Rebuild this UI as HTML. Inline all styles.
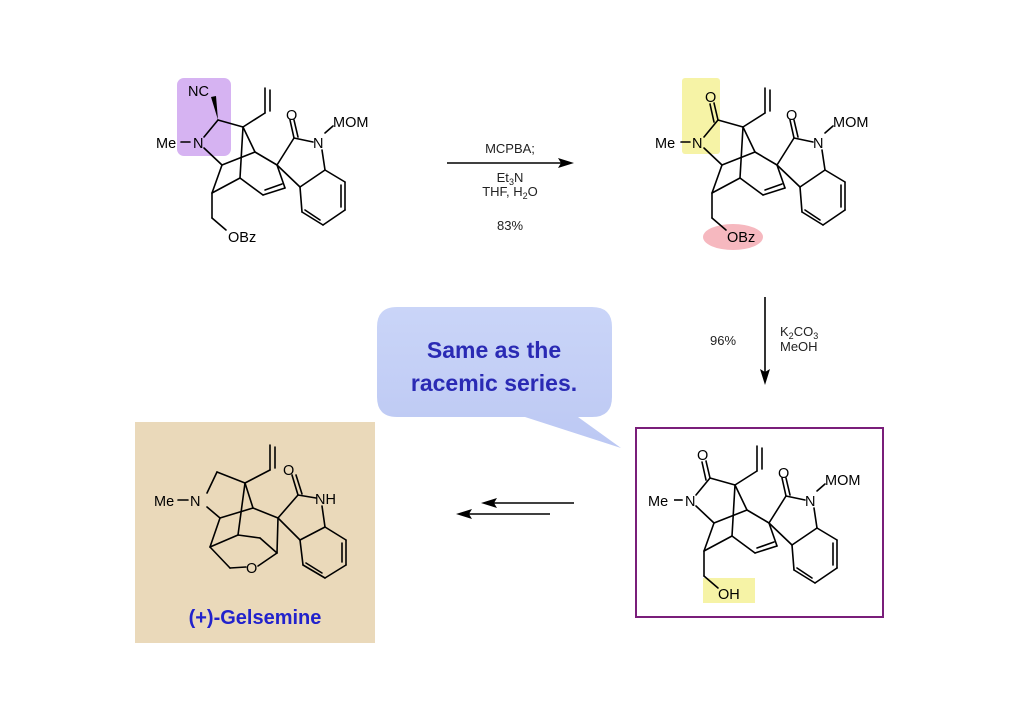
<!DOCTYPE html>
<html><head><meta charset="utf-8"><style>
html,body{margin:0;padding:0;background:#fff;}
svg{display:block;}
text{font-family:"Liberation Sans",sans-serif;}
</style></head><body>
<svg width="1024" height="724" viewBox="0 0 1024 724" xmlns="http://www.w3.org/2000/svg">
<defs>
<linearGradient id="bg" x1="0" y1="0" x2="0" y2="1"><stop offset="0" stop-color="#cad5f8"/><stop offset="1" stop-color="#bcc8f3"/></linearGradient>
<g id="core" stroke="#000" stroke-width="1.6" fill="none" stroke-linecap="round">
<line x1="218" y1="120" x2="243" y2="127"/>
<line x1="218" y1="120" x2="204" y2="137"/>
<line x1="190" y1="142" x2="181" y2="142"/>
<line x1="204" y1="148" x2="222" y2="165"/>
<line x1="243" y1="127" x2="255" y2="152"/>
<line x1="243" y1="127" x2="240" y2="178"/>
<line x1="243" y1="127" x2="265" y2="113"/>
<line x1="265" y1="113" x2="265" y2="88"/>
<line x1="270" y1="111" x2="270" y2="90"/>
<line x1="222" y1="165" x2="255" y2="152"/>
<line x1="222" y1="165" x2="212" y2="193"/>
<line x1="212" y1="193" x2="240" y2="178"/>
<line x1="240" y1="178" x2="263" y2="195"/>
<line x1="263" y1="195" x2="285" y2="188"/>
<line x1="265" y1="190" x2="282" y2="184"/>
<line x1="285" y1="188" x2="277" y2="165"/>
<line x1="255" y1="152" x2="277" y2="165"/>
<line x1="277" y1="165" x2="294" y2="138"/>
<line x1="294" y1="138" x2="290" y2="120"/>
<line x1="298" y1="137" x2="294" y2="120"/>
<line x1="294" y1="138" x2="313" y2="142"/>
<line x1="322" y1="150" x2="325" y2="170"/>
<line x1="325" y1="133" x2="333" y2="126"/>
<line x1="277" y1="165" x2="300" y2="187"/>
<line x1="325" y1="170" x2="300" y2="187"/>
<line x1="325" y1="170" x2="345" y2="182"/>
<line x1="345" y1="182" x2="345" y2="210"/>
<line x1="341" y1="185" x2="341" y2="207"/>
<line x1="345" y1="210" x2="323" y2="225"/>
<line x1="323" y1="225" x2="302" y2="212"/>
<line x1="320" y1="220" x2="305" y2="210"/>
<line x1="302" y1="212" x2="300" y2="187"/>
<line x1="212" y1="193" x2="212" y2="218"/>
<line x1="212" y1="218" x2="226" y2="230"/>
</g>
</defs>

<rect x="177" y="78" width="54" height="78" rx="7" fill="#d6b3f2"/>
<rect x="682" y="78" width="38" height="76" rx="3" fill="#f6f3a6"/>
<ellipse cx="733" cy="237" rx="30" ry="13" fill="#f6b8bf"/>
<rect x="703" y="578" width="52" height="25" fill="#f6f3a6"/>

<use href="#core"/>
<polygon points="218,120 211,97 216,96" fill="#000"/>
<g font-size="14.5" fill="#000">
<text x="188" y="96">NC</text>
<text x="156" y="148">Me</text>
<text x="193" y="148">N</text>
<text x="286" y="120">O</text>
<text x="313" y="148">N</text>
<text x="333" y="127">MOM</text>
<text x="228" y="242">OBz</text>
</g>

<use href="#core" x="500" y="0"/>
<g stroke="#000" stroke-width="1.6" stroke-linecap="round"><line x1="718" y1="120" x2="714" y2="103"/><line x1="714" y1="122" x2="710" y2="104"/></g>
<g font-size="14.5" fill="#000">
<text x="705" y="102">O</text>
<text x="655" y="148">Me</text>
<text x="692" y="148">N</text>
<text x="786" y="120">O</text>
<text x="813" y="148">N</text>
<text x="833" y="127">MOM</text>
<text x="727" y="242">OBz</text>
</g>

<line x1="447" y1="163" x2="562" y2="163" stroke="#000" stroke-width="1.6"/>
<polygon points="574,163 558,158 561,163 558,168" fill="#000"/>
<g font-size="13" fill="#222" text-anchor="middle">
<text x="510" y="153">MCPBA;</text>
<text x="510" y="182">Et<tspan font-size="9" dy="3">3</tspan><tspan dy="-3">N</tspan></text>
<text x="510" y="196">THF, H<tspan font-size="9" dy="3">2</tspan><tspan dy="-3">O</tspan></text>
<text x="510" y="230">83%</text>
</g>

<line x1="765" y1="297" x2="765" y2="372" stroke="#000" stroke-width="1.6"/>
<polygon points="765,385 760,369 765,372 770,369" fill="#000"/>
<g font-size="13" fill="#222">
<text x="710" y="345">96%</text>
<text x="780" y="336">K<tspan font-size="9" dy="3">2</tspan><tspan dy="-3">CO</tspan><tspan font-size="9" dy="3">3</tspan></text>
<text x="780" y="351">MeOH</text>
</g>

<path d="M397,307 H592 Q612,307 612,327 V397 Q612,417 592,417 H578 L621,448 L525,417 H397 Q377,417 377,397 V327 Q377,307 397,307 Z" fill="url(#bg)"/>
<g font-size="23" font-weight="bold" fill="#2a2ab4" text-anchor="middle">
<text x="494" y="358">Same as the</text>
<text x="494" y="391">racemic series.</text>
</g>

<rect x="636" y="428" width="247" height="189" fill="none" stroke="#7a1e7a" stroke-width="2"/>
<g stroke="#000" stroke-width="1.6" stroke-linecap="round"><line x1="682" y1="500" x2="673" y2="500"/><line x1="710" y1="478" x2="706" y2="461"/><line x1="706" y1="480" x2="702" y2="462"/></g>
<use href="#core" x="492" y="358"/>
<rect x="670" y="494" width="12" height="12" fill="#fff"/>
<line x1="682" y1="500" x2="674" y2="500" stroke="#000" stroke-width="1.6"/>
<g font-size="14.5" fill="#000">
<text x="697" y="460">O</text>
<text x="648" y="506">Me</text>
<text x="685" y="506">N</text>
<text x="778" y="478">O</text>
<text x="805" y="506">N</text>
<text x="825" y="485">MOM</text>
<text x="718" y="599">OH</text>
</g>

<g stroke="#000" stroke-width="1.6">
<line x1="574" y1="503" x2="492" y2="503"/>
<line x1="550" y1="514" x2="467" y2="514"/>
</g>
<polygon points="481,503 497,498 494,503 497,508" fill="#000"/>
<polygon points="456,514 472,509 469,514 472,519" fill="#000"/>

<rect x="135" y="422" width="240" height="221" fill="#e6d4b2"/>
<rect x="135" y="422" width="240" height="221" fill="#efe2c6" opacity="0.4"/>
<g stroke="#000" stroke-width="1.6" fill="none" stroke-linecap="round">
<line x1="188" y1="500" x2="178" y2="500"/>
<line x1="207" y1="493" x2="217" y2="472"/>
<line x1="217" y1="472" x2="245" y2="483"/>
<line x1="245" y1="483" x2="270" y2="470"/>
<line x1="270" y1="470" x2="270" y2="445"/>
<line x1="275" y1="468" x2="275" y2="447"/>
<line x1="245" y1="483" x2="253" y2="508"/>
<line x1="245" y1="483" x2="238" y2="535"/>
<line x1="207" y1="507" x2="220" y2="518"/>
<line x1="220" y1="518" x2="253" y2="508"/>
<line x1="220" y1="518" x2="210" y2="547"/>
<line x1="210" y1="547" x2="238" y2="535"/>
<line x1="253" y1="508" x2="278" y2="518"/>
<line x1="238" y1="535" x2="260" y2="538"/>
<line x1="260" y1="538" x2="277" y2="553"/>
<line x1="277" y1="553" x2="278" y2="518"/>
<line x1="277" y1="553" x2="258" y2="566"/>
<line x1="246" y1="567" x2="230" y2="568"/>
<line x1="230" y1="568" x2="210" y2="547"/>
<line x1="278" y1="518" x2="298" y2="495"/>
<line x1="298" y1="495" x2="292" y2="475"/>
<line x1="302" y1="494" x2="296" y2="475"/>
<line x1="298" y1="495" x2="316" y2="498"/>
<line x1="322" y1="506" x2="325" y2="527"/>
<line x1="278" y1="518" x2="300" y2="540"/>
<line x1="325" y1="527" x2="300" y2="540"/>
<line x1="325" y1="527" x2="346" y2="540"/>
<line x1="346" y1="540" x2="346" y2="565"/>
<line x1="342" y1="543" x2="342" y2="562"/>
<line x1="346" y1="565" x2="325" y2="578"/>
<line x1="325" y1="578" x2="303" y2="565"/>
<line x1="322" y1="573" x2="306" y2="563"/>
<line x1="303" y1="565" x2="300" y2="540"/>
</g>
<g font-size="14.5" fill="#000">
<text x="154" y="506">Me</text>
<text x="190" y="506">N</text>
<text x="283" y="475">O</text>
<text x="315" y="504">NH</text>
<text x="246" y="573">O</text>
</g>
<text x="255" y="624" font-size="20" font-weight="bold" fill="#2222cc" text-anchor="middle">(+)-Gelsemine</text>
</svg>
</body></html>
